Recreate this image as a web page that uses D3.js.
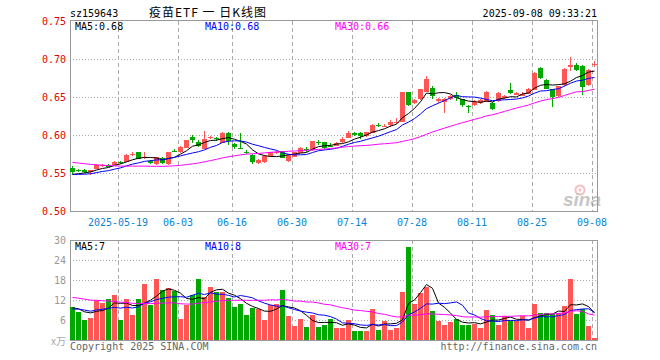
<!DOCTYPE html>
<html><head><meta charset="utf-8">
<script src="https://cdn.jsdelivr.net/npm/d3@7/dist/d3.min.js"></script>
<style>body{margin:0;background:#fff}svg{display:block}</style>
</head><body><svg id="c" width="660" height="360"></svg>
<script>
// ---------- data ----------
const dates = ["05-07","05-08","05-09","05-12","05-13","05-14","05-15","05-16","05-19","05-20","05-21","05-22","05-23","05-26","05-27","05-28","05-29","05-30",
"06-03","06-04","06-05","06-06","06-09","06-10","06-11","06-12","06-13","06-16","06-17","06-18","06-19","06-20","06-23","06-24","06-25","06-26","06-27","06-30",
"07-01","07-02","07-03","07-04","07-07","07-08","07-09","07-10","07-11","07-14","07-15","07-16","07-17","07-18","07-21","07-22","07-23","07-24","07-25","07-28","07-29","07-30","07-31",
"08-01","08-04","08-05","08-06","08-07","08-08","08-11","08-12","08-13","08-14","08-15","08-18","08-19","08-20","08-21","08-22","08-25","08-26","08-27","08-28","08-29",
"09-01","09-02","09-03","09-04","09-05","09-08"];
const opens = [0.556,0.5535,0.554,0.551,0.556,0.560,0.561,0.561,0.5645,0.565,0.574,0.578,0.570,0.566,0.562,0.570,0.561,0.5795,0.578,0.583,
0.597,0.591,0.582,0.5965,0.5955,0.590,0.603,0.588,0.5835,0.578,0.574,0.563,0.564,0.5715,0.5765,0.579,0.566,0.571,0.577,0.5815,
0.580,0.591,0.5905,0.586,0.586,0.5905,0.596,0.603,0.603,0.599,0.6025,0.6135,0.6115,0.612,0.616,0.6175,0.6565,0.642,0.647,0.657,
0.662,0.644,0.643,0.647,0.653,0.647,0.638,0.6395,0.642,0.644,0.6425,0.644,0.648,0.659,0.6525,0.652,0.655,0.660,0.688,0.673,
0.660,0.651,0.666,0.690,0.692,0.691,0.666,0.6925];
const highs = [0.559,0.555,0.555,0.5545,0.562,0.5625,0.562,0.566,0.566,0.575,0.578,0.578,0.577,0.567,0.5715,0.571,0.578,0.582,0.586,0.594,
0.600,0.594,0.605,0.599,0.598,0.604,0.604,0.590,0.602,0.580,0.575,0.568,0.574,0.578,0.579,0.5795,0.5745,0.578,0.5845,0.5845,
0.5915,0.594,0.591,0.589,0.5905,0.5975,0.605,0.604,0.6035,0.6045,0.614,0.6155,0.614,0.620,0.6225,0.657,0.657,0.647,0.661,0.677,
0.664,0.6485,0.649,0.6525,0.657,0.648,0.6395,0.6455,0.6475,0.658,0.644,0.656,0.652,0.669,0.657,0.656,0.662,0.683,0.690,0.674,
0.661,0.665,0.688,0.703,0.695,0.692,0.687,0.697];
const lows = [0.549,0.551,0.550,0.547,0.555,0.5585,0.558,0.560,0.562,0.564,0.572,0.568,0.569,0.562,0.561,0.562,0.560,0.577,0.576,0.583,
0.590,0.584,0.581,0.595,0.592,0.589,0.587,0.582,0.582,0.575,0.562,0.5615,0.563,0.571,0.575,0.5695,0.564,0.5705,0.5765,0.578,
0.579,0.587,0.5815,0.584,0.5855,0.590,0.5955,0.599,0.5945,0.598,0.602,0.610,0.611,0.611,0.614,0.6175,0.638,0.641,0.646,0.656,
0.647,0.6425,0.6295,0.646,0.645,0.637,0.6295,0.638,0.641,0.643,0.633,0.643,0.647,0.654,0.652,0.651,0.654,0.659,0.674,0.660,
0.637,0.650,0.665,0.684,0.684,0.652,0.665,0.690];
const closes = [0.551,0.553,0.551,0.554,0.561,0.561,0.559,0.565,0.564,0.574,0.575,0.569,0.571,0.563,0.571,0.563,0.577,0.579,0.584,0.593,
0.593,0.586,0.595,0.597,0.595,0.603,0.593,0.584,0.583,0.5775,0.565,0.5665,0.5725,0.577,0.577,0.5695,0.574,0.577,0.5835,0.581,
0.5915,0.5905,0.5825,0.5858,0.590,0.5945,0.6025,0.600,0.599,0.604,0.613,0.613,0.612,0.6165,0.6165,0.6565,0.6395,0.646,0.660,0.674,
0.651,0.647,0.647,0.651,0.649,0.6395,0.6365,0.644,0.646,0.657,0.634,0.655,0.651,0.655,0.6555,0.654,0.661,0.682,0.6745,0.661,
0.650,0.664,0.687,0.692,0.685,0.6635,0.686,0.694];
const volumes = [10.0,8.5,5.9,6.7,11.9,11.2,12.3,13.5,6.1,12.3,7.6,12.3,16.9,10.6,18.4,15.0,15.7,14.8,6.3,10.6,
13.6,18.4,12.9,16.0,14.4,14.4,12.6,9.8,10.8,7.5,9.7,9.4,5.9,10.6,10.8,15.1,7.2,4.3,6.4,4.0,
7.4,4.0,4.6,6.3,3.6,3.6,6.1,2.8,2.8,2.8,9.4,3.1,5.8,3.1,3.7,14.4,27.9,10.9,14.1,15.9,
8.8,5.8,4.4,5.5,6.4,4.6,4.6,4.9,3.7,9.1,7.6,4.6,7.3,5.8,5.8,7.3,3.7,10.9,8.2,8.2,
7.9,8.2,10.3,18.3,7.9,9.4,4.3,0.6];
// sessions before 05-07 (off-chart), estimated so the MA lines start where the picture shows them
const earlierCloses = [0.580,0.579,0.578,0.578,0.577,0.576,0.575,0.574,0.574,0.573,0.572,0.571,0.570,0.569,0.568,0.567,0.566,0.565,0.564,0.564,
0.551,0.549,0.548,0.546,0.546,0.548,0.546,0.547,0.5483];
const earlierVolumes = [16.5,14.0,15.8,13.2,15.5,14.8,16.2,14.0,15.0,15.0,13.5,15.2,14.0,13.8,14.6,13.9,14.5,14.2,13.6,13.7,
9.0,8.5,10.2,8.0,9.3,9.6,10.5,8.4,9.5];
const priceTicks = ["0.50","0.55","0.60","0.65","0.70","0.75"];
const volTicks = ["6","12","18","24","30"];
const dateTicks = ["05-19","06-03","06-16","06-30","07-14","07-28","08-11","08-25","09-08"];
const dateTickLabels = ["2025-05-19","06-03","06-16","06-30","07-14","07-28","08-11","08-25","09-08"];
const maPeriods = [5,10,30];
const maColors = ["#000","#00f","#f0f"];
const priceMALabels = ["MA5:0.68","MA10:0.68","MA30:0.66"];
const volMALabels = ["MA5:7","MA10:8","MA30:7"];
const code = "sz159643", title = "疫苗ETF 一 日K线图", stamp = "2025-09-08 09:33:21";

// ---------- drawing ----------
const svg = d3.select("#c");
const L = 70, R = 597, PT = 21, PB = 211, VT = 240, VB = 340;
const mono = "'DejaVu Sans Mono', monospace";
const RED = "#ff5555", GREEN = "#00a800";

const x = d3.scaleBand().domain(dates).range([L, L + dates.length * 6]).padding(0);
const y = d3.scaleLinear().domain([0.5, 0.75]).range([PB, PT]);
const yv = d3.scaleLinear().domain([0, 30]).range([VB, VT]);
const cx = d => x(d) + 2.5;

function movingAvg(hist, vals, n) {
  const all = hist.concat(vals), off = hist.length;
  return vals.map((_, i) => d3.mean(all.slice(off + i - n + 1, off + i + 1)));
}

// grids
function grid(top, bottom, yscale, ticks) {
  const g = svg.append("g").attr("stroke", "#aaa").attr("shape-rendering", "crispEdges");
  g.selectAll("line.v").data(dateTicks).join("line")
    .attr("x1", d => x(d) + 0.5).attr("x2", d => x(d) + 0.5)
    .attr("y1", top).attr("y2", bottom).attr("stroke-dasharray", "4,3");
  g.selectAll("line.h").data(ticks).join("line")
    .attr("x1", L).attr("x2", R).attr("y1", d => Math.round(yscale(+d)) + 0.5).attr("y2", d => Math.round(yscale(+d)) + 0.5)
    .attr("stroke-dasharray", "1,2");
}
grid(PT, PB, y, priceTicks.slice(1, -1));
grid(VT, VB, yv, volTicks.slice(0, -1));

// frames
svg.append("rect").attr("x", L + 0.5).attr("y", PT - 0.5).attr("width", R - L).attr("height", PB - PT + 0.5)
  .attr("fill", "none").attr("stroke", "#999").attr("shape-rendering", "crispEdges");
svg.append("rect").attr("x", L + 0.5).attr("y", VT + 0.5).attr("width", R - L).attr("height", VB - VT)
  .attr("fill", "none").attr("stroke", "#999").attr("shape-rendering", "crispEdges");

// sina watermark
const wm = svg.append("g").attr("opacity", 0.55);
wm.append("circle").attr("cx", 580).attr("cy", 190).attr("r", 4.5).attr("fill", "none").attr("stroke", "#e88").attr("stroke-width", 2);
wm.append("circle").attr("cx", 580).attr("cy", 190).attr("r", 1.5).attr("fill", "#e88");
wm.append("text").attr("x", 563).attr("y", 206).text("sina")
  .attr("font-family", "Arial, 'Liberation Sans', sans-serif").attr("font-style", "italic").attr("font-weight", "bold")
  .attr("font-size", 19).attr("fill", "#999");

// candles
const up = i => closes[i] >= opens[i];
const cg = svg.append("g").attr("shape-rendering", "crispEdges");
cg.selectAll("line").data(dates).join("line")
  .attr("x1", d => x(d) + 2.5).attr("x2", d => x(d) + 2.5)
  .attr("y1", (d, i) => y(highs[i])).attr("y2", (d, i) => y(lows[i]))
  .attr("stroke", (d, i) => up(i) ? RED : GREEN);
cg.selectAll("rect").data(dates).join("rect")
  .attr("x", d => x(d)).attr("width", 5)
  .attr("y", (d, i) => Math.round(y(Math.max(opens[i], closes[i]))))
  .attr("height", (d, i) => Math.max(1, Math.round(Math.abs(y(opens[i]) - y(closes[i])))))
  .attr("fill", (d, i) => up(i) ? RED : GREEN);

// volume bars
svg.append("g").attr("shape-rendering", "crispEdges").selectAll("rect").data(dates).join("rect")
  .attr("x", d => x(d)).attr("width", 5)
  .attr("y", (d, i) => yv(volumes[i])).attr("height", (d, i) => VB - yv(volumes[i]))
  .attr("fill", (d, i) => up(i) ? RED : GREEN);

// moving averages
maPeriods.forEach((n, k) => {
  const pm = movingAvg(earlierCloses, closes, n);
  const vm = movingAvg(earlierVolumes, volumes, n);
  svg.append("path").datum(pm).attr("fill", "none").attr("stroke", maColors[k]).attr("stroke-width", 1)
    .attr("d", d3.line().x((v, i) => cx(dates[i])).y(v => y(v)));
  svg.append("path").datum(vm).attr("fill", "none").attr("stroke", maColors[k]).attr("stroke-width", 1)
    .attr("d", d3.line().x((v, i) => cx(dates[i])).y(v => yv(v)));
});

// texts
function txt(s, xx, yy, color, anchor, size, family) {
  return svg.append("text").attr("x", xx).attr("y", yy).text(s).attr("fill", color)
    .attr("text-anchor", anchor || "start").attr("font-size", size || 10).attr("font-family", family || mono)
    .attr("dominant-baseline", "central");
}
txt(code, 70, 13, "#000");
txt(title, 208, 11, "#000", "middle", 12, "'Noto Sans CJK SC', sans-serif")
  .attr("letter-spacing", 1).attr("xml:space", "preserve");
txt(stamp, 597, 13, "#000", "end");
const maX = [75, 205, 335];
priceMALabels.forEach((s, k) => txt(s, maX[k], 26.5, maColors[k]));
volMALabels.forEach((s, k) => txt(s, maX[k], 246.5, maColors[k]));
priceTicks.forEach(t => txt(t, 66, y(+t), "#e00000", "end"));
volTicks.forEach(t => txt(t, 66, yv(+t), "#999", "end"));
txt("x万", 66, 340, "#aaa", "end", 10, "'Noto Sans CJK SC', sans-serif");
dateTicks.forEach((d, k) => txt(dateTickLabels[k], x(d), 222, "#0a85d5", "middle"));
txt("Copyright 2025 SINA.COM", 70, 346, "#666");
txt("http://finance.sina.com.cn", 597, 346, "#666", "end");
</script></body></html>
